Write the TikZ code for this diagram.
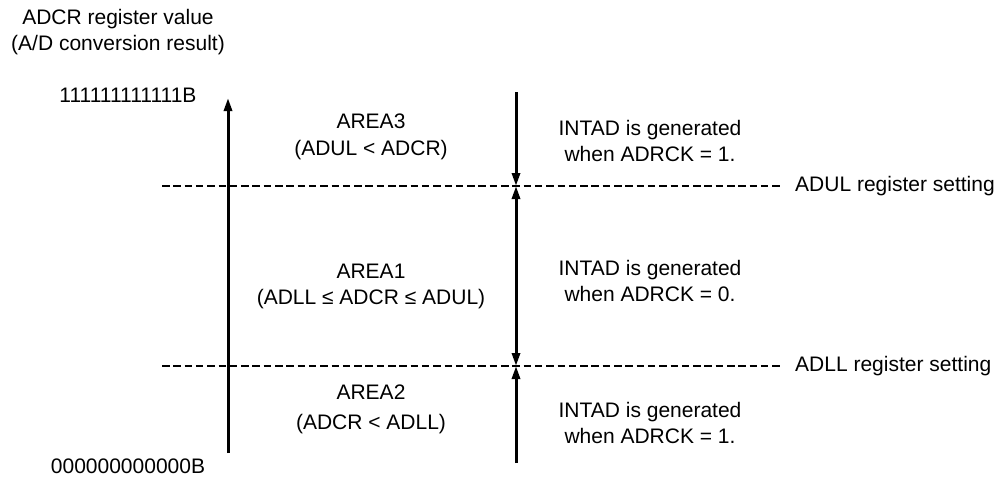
\documentclass[tikz,border=0pt]{standalone}
\usepackage{fontspec}
\setmainfont{Liberation Sans}
\usetikzlibrary{arrows.meta}
\begin{document}
\begin{tikzpicture}[x=1pt,y=-1pt,
  txt/.style={font=\fontsize{21}{26}\selectfont, inner sep=0pt, align=center},
  axis/.style={line width=3pt, -{Triangle[length=13pt,width=8pt]}},
  marker/.style={line width=3pt},
  tipend/.style={-{Triangle[length=13pt,width=8pt]}},
  tipboth/.style={{Triangle[length=13pt,width=8pt]}-{Triangle[length=13pt,width=8pt]}},
  dashline/.style={line width=2.8pt, dash pattern=on 7.5pt off 3.8pt}]
\useasboundingbox (0,0) rectangle (998,480);

% titles and scale labels
\node[txt] (title) at (118,32) {ADCR register value\\(A/D conversion result)};
\node[txt] (top) at (128,95) {111111111111B};
\node[txt] (bot) at (128,466) {000000000000B};

% dashed settings lines
\coordinate (ul0) at (162,186);
\coordinate (ul1) at (781,186);
\coordinate (ll0) at (162,366);
\coordinate (ll1) at (781,366);
\node[txt, anchor=west] (ullab) at (795,186) {ADUL register setting};
\node[txt, anchor=west] (lllab) at (795,366) {ADLL register setting};
\draw[dashline] (ul0) -- (ul1);
\draw[dashline] (ll0) -- (ll1);

% main axis
\coordinate (ax0) at (228,453);
\coordinate (ax1) at (228,98);
\draw[axis] (ax0) -- (ax1);

% right arrows
\coordinate (r0) at (516,92);
\coordinate (r1) at (516,186);
\coordinate (r2) at (516,366);
\coordinate (r3) at (516,463);
\draw[marker, tipend] (r0) -- (r1);
\draw[marker, tipboth] (r1) -- (r2);
\draw[marker, tipend] (r3) -- (r2);

% area labels
\node[txt] (a3a) at (371,121) {AREA3};
\node[txt] (a3b) at (371,150) {(ADUL < ADCR)};
\node[txt] (a1a) at (371,271) {AREA1};
\node[txt] (a1b) at (371,299) {(ADLL ≤ ADCR ≤ ADUL)};
\node[txt] (a2a) at (371,392) {AREA2};
\node[txt] (a2b) at (371,424) {(ADCR < ADLL)};

% INTAD labels
\node[txt] (i3) at (650,141) {INTAD is generated\\when ADRCK = 1.};
\node[txt] (i1) at (650,281) {INTAD is generated\\when ADRCK = 0.};
\node[txt] (i2) at (650,423) {INTAD is generated\\when ADRCK = 1.};
\end{tikzpicture}
\end{document}
